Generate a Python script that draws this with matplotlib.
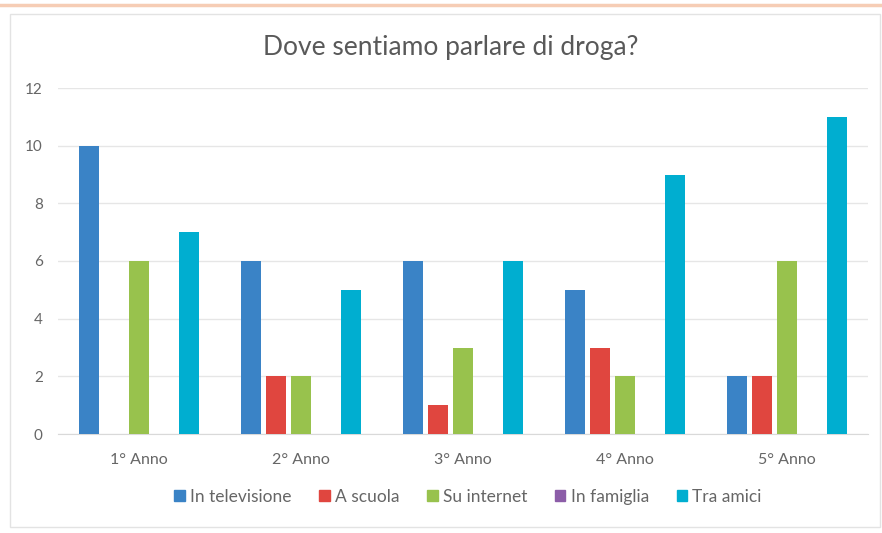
import matplotlib
matplotlib.use("Agg")
import matplotlib.pyplot as plt
from matplotlib.patches import Rectangle
from matplotlib.lines import Line2D
import numpy as np

categories = ["1° Anno", "2° Anno", "3° Anno", "4° Anno", "5° Anno"]
series_names = ["In televisione", "A scuola", "Su internet", "In famiglia", "Tra amici"]
tv = [10, 6, 6, 5, 2]
scuola = [0, 2, 1, 3, 2]
internet = [6, 2, 3, 2, 6]
famiglia = [0, 0, 0, 0, 0]
amici = [7, 5, 6, 9, 11]
yticks = [0, 2, 4, 6, 8, 10, 12]

colors = ["#3A83C6", "#E0463F", "#98C24D", "#8C5DA8", "#00AED0"]
values = [tv, scuola, internet, famiglia, amici]

plt.rcParams['font.family'] = ['Lato', 'DejaVu Sans']
fig = plt.figure(figsize=(8.82, 5.33), dpi=100)

# outer decorations
fig.add_artist(Line2D([0, 1], [1 - 5/533, 1 - 5/533], color="#F6CDB5", lw=2.5, transform=fig.transFigure))
fig.add_artist(Rectangle((10/882, 1 - 527/533), 870/882, 513/533, transform=fig.transFigure,
                         fill=False, edgecolor="#E3E3E3", lw=1.0))

ax = fig.add_axes([58/882, 1 - 434/533, 810/882, 346/533])
x = np.arange(len(categories))
step = 25/162
width = 20/162
for i, (name, vals, c) in enumerate(zip(series_names, values, colors)):
    ax.bar(x + (i - 2) * step, vals, width=width, color=c, label=name, zorder=3)

ax.set_xlim(-0.5, 4.5)
ax.set_ylim(0, 12)
ax.set_yticks(yticks)
ax.set_yticklabels([str(v) for v in yticks], color="#666666", fontsize=11)
ax.set_xticks(x)
ax.set_xticklabels(categories, color="#666666", fontsize=11.5)
ax.tick_params(axis='both', length=0)
ax.tick_params(axis='x', pad=14)
ax.tick_params(axis='y', pad=11)
ax.grid(axis='y', color="#E6E6E6", lw=1, zorder=0)
for s in ["top", "right", "left"]:
    ax.spines[s].set_visible(False)
ax.spines["bottom"].set_color("#D9D9D9")

fig.text(451/882, 1 - 48/533, "Dove sentiamo parlare di droga?", ha="center", va="center",
         fontsize=19, color="#595959")

handles = [Rectangle((0, 0), 1, 1, color=c) for c in colors]
fig.legend(handles, series_names, loc="center", bbox_to_anchor=(468/882, 1 - 497/533), ncol=5,
           frameon=False, fontsize=12.5, handlelength=0.6, handleheight=0.6, handletextpad=0.3,
           columnspacing=1.6, labelcolor="#666666")

fig.savefig("out.png", dpi=100)
